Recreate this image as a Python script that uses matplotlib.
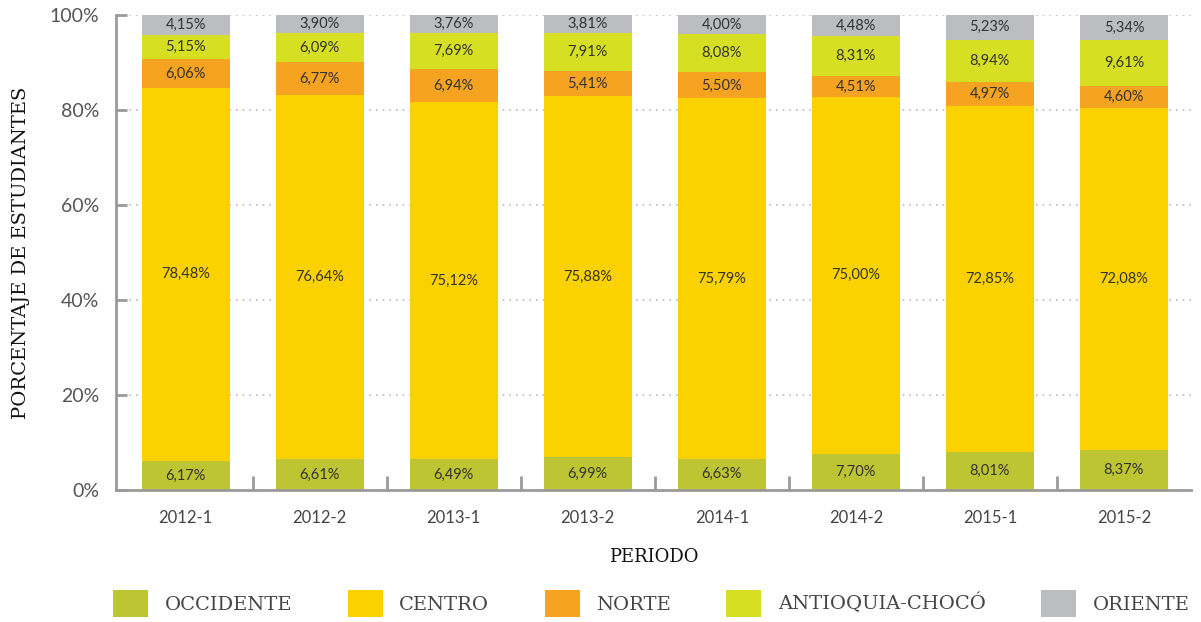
import numpy as np
from matplotlib import pyplot as plt
from matplotlib.patches import Patch

periodos = ['2012-1', '2012-2', '2013-1', '2013-2', '2014-1', '2014-2', '2015-1', '2015-2']
regiones = ['OCCIDENTE', 'CENTRO', 'NORTE', 'ANTIOQUIA-CHOCÓ', 'ORIENTE']

occidente = [6.17, 6.61, 6.49, 6.99, 6.63, 7.70, 8.01, 8.37]
centro = [78.48, 76.64, 75.12, 75.88, 75.79, 75.00, 72.85, 72.08]
norte = [6.06, 6.77, 6.94, 5.41, 5.50, 4.51, 4.97, 4.60]
antioquia = [5.15, 6.09, 7.69, 7.91, 8.08, 8.31, 8.94, 9.61]
oriente = [4.15, 3.90, 3.76, 3.81, 4.00, 4.48, 5.23, 5.34]

colores = ['#BDC532', '#FBD200', '#F5A320', '#D7DF22', '#BCBDC0']
series = [occidente, centro, norte, antioquia, oriente]

fig = plt.figure(figsize=(12.01, 6.22), dpi=100)
ax = fig.add_axes([0.0966, 0.212, 0.895, 0.764])

x = np.arange(len(periodos))
base = np.zeros(len(periodos))
for vals, col in zip(series, colores):
    vals = np.array(vals)
    ax.bar(x, vals, width=0.655, bottom=base, color=col, zorder=2)
    for xi, b, v in zip(x, base, vals):
        ax.text(xi, b + v / 2, f'{v:.2f}%'.replace('.', ','), ha='center', va='center',
                fontsize=10.5, family='Lato', color='#333333', zorder=3)
    base += vals

ax.set_xlim(-0.52, 7.5)
ax.set_ylim(0, 100)
ax.set_yticks([0, 20, 40, 60, 80, 100])
ax.set_yticklabels(['0%', '20%', '40%', '60%', '80%', '100%'], fontsize=14,
                   family='Lato', color='#555555')
ax.set_xticks(x)
ax.set_xticklabels(periodos, fontsize=12, family='Lato', color='#444444')
ax.set_xticks(np.arange(0.5, 7.5, 1), minor=True)
ax.tick_params(axis='x', which='major', length=0, pad=14)
ax.tick_params(axis='x', which='minor', direction='in', length=10, width=2, color='#9a9a9a')
ax.tick_params(axis='y', direction='in', length=8, width=2, color='#9a9a9a', pad=12)

ax.grid(axis='y', linestyle=(0, (1, 3)), color='#bbbbbb', linewidth=1.2, zorder=1)
for s in ['top', 'right']:
    ax.spines[s].set_visible(False)
for s in ['left', 'bottom']:
    ax.spines[s].set_color('#9a9a9a')
    ax.spines[s].set_linewidth(2)

ax.set_ylabel('PORCENTAJE DE ESTUDIANTES', fontsize=14, family='DejaVu Serif', color='#111111', labelpad=14)
ax.set_xlabel('PERIODO', fontsize=13, family='DejaVu Serif', color='#111111', labelpad=16)

handles = [Patch(facecolor=c) for c in colores]
fig.legend(handles, regiones, loc='center', bbox_to_anchor=(0.5425, 0.03), ncol=5,
           frameon=False, prop={'family': 'DejaVu Serif', 'size': 14},
           handlelength=1.8, handleheight=1.8, handletextpad=0.85, columnspacing=2.85,
           labelcolor='#444444')

plt.savefig('out.png', dpi=100)
